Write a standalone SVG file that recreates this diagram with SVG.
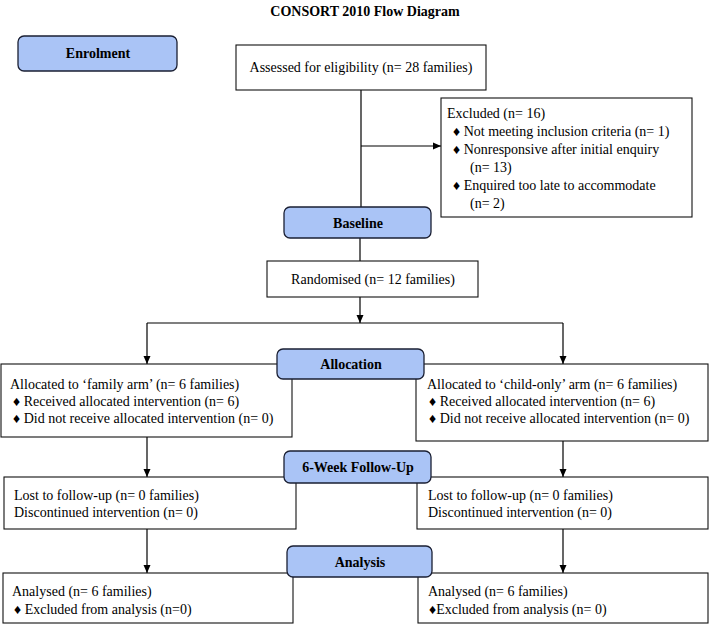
<svg xmlns="http://www.w3.org/2000/svg" width="709" height="624" viewBox="0 0 709 624">
<defs>
<marker id="ah" markerWidth="8" markerHeight="9" refX="8" refY="4" orient="auto" markerUnits="userSpaceOnUse">
<path d="M0,0.5 L8,4 L0,7.5 Z" fill="#000"/>
</marker>
</defs>
<style>
text{font-family:"Liberation Serif","Times New Roman",serif;font-size:14px;fill:#000}
.b{fill:#fff;stroke:#111;stroke-width:1.1}
.s{fill:#aac4f6;stroke:#1a1f33;stroke-width:1.3}
.h{font-weight:bold;text-anchor:middle}
.c{text-anchor:middle}
.l{fill:none;stroke:#000;stroke-width:1.2}
</style>
<rect width="709" height="624" fill="#fff"/>
<text class="h" x="365" y="16" font-size="13.5">CONSORT 2010 Flow Diagram</text>
<g id="connectors">
<line class="l" x1="361" y1="90" x2="361" y2="207"/>
<line class="l" x1="361" y1="146" x2="441" y2="146" marker-end="url(#ah)"/>
<line class="l" x1="360" y1="238" x2="360" y2="261"/>
<line class="l" x1="360" y1="297" x2="360" y2="323" marker-end="url(#ah)"/>
<line class="l" x1="147" y1="323" x2="563" y2="323"/>
<line class="l" x1="147" y1="323" x2="147" y2="364" marker-end="url(#ah)"/>
<line class="l" x1="563" y1="323" x2="563" y2="364" marker-end="url(#ah)"/>
<line class="l" x1="147" y1="437" x2="147" y2="477" marker-end="url(#ah)"/>
<line class="l" x1="563" y1="441" x2="563" y2="477" marker-end="url(#ah)"/>
<line class="l" x1="147" y1="529" x2="147" y2="573" marker-end="url(#ah)"/>
<line class="l" x1="563" y1="529" x2="563" y2="573" marker-end="url(#ah)"/>
</g>
<g id="enrolment">
<rect class="s" x="18" y="36" width="159" height="35" rx="6"/>
<text class="h" x="98" y="58">Enrolment</text>
</g>
<g id="assessed">
<rect class="b" x="236" y="45" width="250" height="45"/>
<text class="c" x="361" y="72">Assessed for eligibility (n= 28 families)</text>
</g>
<g id="excluded">
<rect class="b" x="441" y="98" width="251" height="119"/>
<text x="447" y="118">Excluded (n= 16)</text>
<text x="453" y="136">♦ Not meeting inclusion criteria (n= 1)</text>
<text x="453" y="154">♦ Nonresponsive after initial enquiry</text>
<text x="470" y="172">(n= 13)</text>
<text x="453" y="190">♦ Enquired too late to accommodate</text>
<text x="470" y="208">(n= 2)</text>
</g>
<g id="baseline">
<rect class="s" x="284" y="207" width="147" height="31" rx="6"/>
<text class="h" x="358" y="228">Baseline</text>
</g>
<g id="randomised">
<rect class="b" x="267" y="261" width="211" height="36"/>
<text class="c" x="373" y="284">Randomised (n= 12 families)</text>
</g>
<g id="alloc-left">
<rect class="b" x="1" y="364" width="291" height="73"/>
<text x="10" y="389">Allocated to ‘family arm’ (n= 6 families)</text>
<text x="13" y="406">♦ Received allocated intervention (n= 6)</text>
<text x="13" y="423">♦ Did not receive allocated intervention (n= 0)</text>
</g>
<g id="alloc-right">
<rect class="b" x="416" y="364" width="292" height="77"/>
<text x="427" y="389">Allocated to ‘child-only’ arm (n= 6 families)</text>
<text x="429" y="406">♦ Received allocated intervention (n= 6)</text>
<text x="429" y="423">♦ Did not receive allocated intervention (n= 0)</text>
</g>
<g id="allocation">
<rect class="s" x="277" y="349" width="147" height="30" rx="6"/>
<text class="h" x="351" y="369">Allocation</text>
</g>
<g id="followup-left">
<rect class="b" x="4" y="477" width="292" height="52"/>
<text x="14" y="500">Lost to follow-up (n= 0 families)</text>
<text x="14" y="517">Discontinued intervention (n= 0)</text>
</g>
<g id="followup-right">
<rect class="b" x="417" y="477" width="291" height="52"/>
<text x="428" y="500">Lost to follow-up (n= 0 families)</text>
<text x="428" y="517">Discontinued intervention (n= 0)</text>
</g>
<g id="followup">
<rect class="s" x="284" y="451" width="147" height="32" rx="6"/>
<text class="h" x="358" y="472">6-Week Follow-Up</text>
</g>
<g id="analysis-left">
<rect class="b" x="3" y="573" width="290" height="50"/>
<text x="12" y="596">Analysed (n= 6 families)</text>
<text x="14" y="614">♦ Excluded from analysis (n=0)</text>
</g>
<g id="analysis-right">
<rect class="b" x="418" y="573" width="290" height="50"/>
<text x="428" y="596">Analysed (n= 6 families)</text>
<text x="429" y="614">♦Excluded from analysis (n= 0)</text>
</g>
<g id="analysis">
<rect class="s" x="287" y="546" width="145" height="31" rx="6"/>
<text class="h" x="360" y="567">Analysis</text>
</g>
</svg>
